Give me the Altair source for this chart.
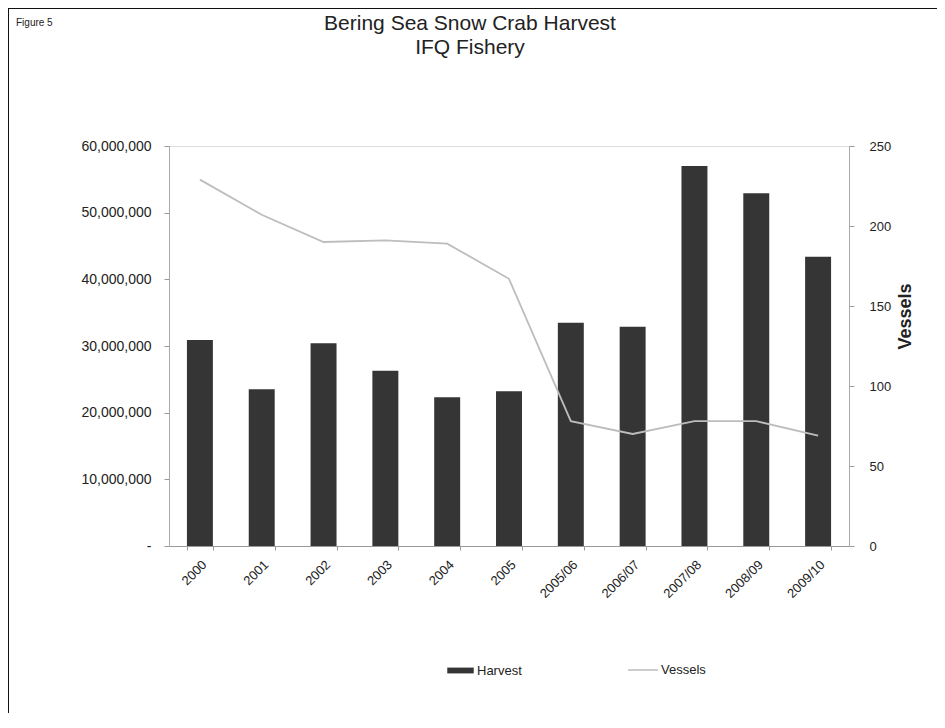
import altair as alt
import pandas as pd

seasons = ["2000", "2001", "2002", "2003", "2004", "2005",
           "2005/06", "2006/07", "2007/08", "2008/09", "2009/10"]
harvest = [30900000, 23500000, 30400000, 26300000, 22300000, 23200000,
           33500000, 32900000, 57000000, 52900000, 43400000]
vessels = [229, 207, 190, 191, 189, 167, 78, 70, 78, 78, 69]

df = pd.DataFrame({"season": seasons, "harvest": harvest, "vessels": vessels,
                   "h_lab": ["Harvest"] * len(seasons),
                   "v_lab": ["Vessels"] * len(seasons)})

FONT = "Liberation Sans"
W, H = 680, 400

xenc = alt.X("season:N", sort=seasons, title=None,
             scale=alt.Scale(paddingInner=0.58, paddingOuter=0.29),
             axis=alt.Axis(labelAngle=-45, labelAlign="right", labelBaseline="top",
                           labelFont=FONT, labelFontSize=13, labelColor="#222",
                           labelPadding=8, tickBand="extent", tickSize=4,
                           domainColor="#999", tickColor="#999"))

bars = alt.Chart(df).mark_bar(color="#353535").encode(
    x=xenc,
    y=alt.Y("harvest:Q", title=None,
            scale=alt.Scale(domain=[0, 60000000], nice=False),
            axis=alt.Axis(values=[0, 10000000, 20000000, 30000000, 40000000, 50000000, 60000000],
                          labelExpr="datum.value == 0 ? '-' : format(datum.value, ',')",
                          labelFont=FONT, labelFontSize=14, labelColor="#222",
                          labelPadding=13, grid=False, tickSize=5,
                          domainColor="#aaa", tickColor="#999")),
    fill=alt.Fill("h_lab:N", title=None,
                  scale=alt.Scale(domain=["Harvest"], range=["#353535"]),
                  legend=alt.Legend(orient="none", legendX=278, legendY=511,
                                    symbolType="M-1,-0.22H1V0.22H-1Z", symbolSize=700,
                                    symbolStrokeWidth=0, labelFont=FONT, labelFontSize=13,
                                    labelColor="#222", labelOffset=3, padding=0)),
)

line = alt.Chart(df).mark_line(strokeWidth=1.8).encode(
    x=alt.X("season:N", sort=seasons),
    y=alt.Y("vessels:Q", title="Vessels",
            scale=alt.Scale(domain=[0, 250], nice=False),
            axis=alt.Axis(orient="right", values=[0, 50, 100, 150, 200, 250],
                          labelFont=FONT, labelFontSize=13, labelColor="#222",
                          labelPadding=15, grid=False, tickSize=5,
                          domainColor="#aaa", tickColor="#999",
                          titleFont=FONT, titleFontSize=18, titleFontWeight="bold",
                          titleColor="#222", titleAngle=270, titleX=65, titleY=170)),
    stroke=alt.Stroke("v_lab:N", title=None,
                      scale=alt.Scale(domain=["Vessels"], range=["#bdbdbd"]),
                      legend=alt.Legend(orient="none", legendX=458, legendY=508,
                                        symbolType="stroke", symbolSize=900,
                                        symbolStrokeWidth=1.5, labelFont=FONT,
                                        labelFontSize=13, labelColor="#222",
                                        labelOffset=2, padding=0)),
)

txt = pd.DataFrame({"t": ["x"]})
border = alt.Chart(txt).mark_rect(fill=None, stroke="#111", strokeWidth=2, clip=False).encode(
    x=alt.value(-161), x2=alt.value(W + 200), y=alt.value(-138), y2=alt.value(H + 300))

fig_lab = alt.Chart(txt).mark_text(text="Figure 5", font=FONT, fontSize=10, align="left",
                                   baseline="middle", color="#222").encode(
    x=alt.value(-153), y=alt.value(-123))
title1 = alt.Chart(txt).mark_text(text="Bering Sea Snow Crab Harvest", font=FONT, fontSize=21,
                                  align="center", baseline="middle", color="#222").encode(
    x=alt.value(301), y=alt.value(-122))
title2 = alt.Chart(txt).mark_text(text="IFQ Fishery", font=FONT, fontSize=21,
                                  align="center", baseline="middle", color="#222").encode(
    x=alt.value(301), y=alt.value(-98))

chart = alt.layer(border, bars, line, fig_lab, title1, title2).resolve_scale(
    y="independent", fill="independent", stroke="independent"
).properties(
    width=W, height=H,
    autosize=alt.AutoSizeParams(type="none"),
    padding={"left": 161, "top": 138, "right": 88, "bottom": 167},
).configure_view(stroke=None).configure(background="white")

chart.save("out.html", embed_options={"renderer": "svg", "actions": False})
